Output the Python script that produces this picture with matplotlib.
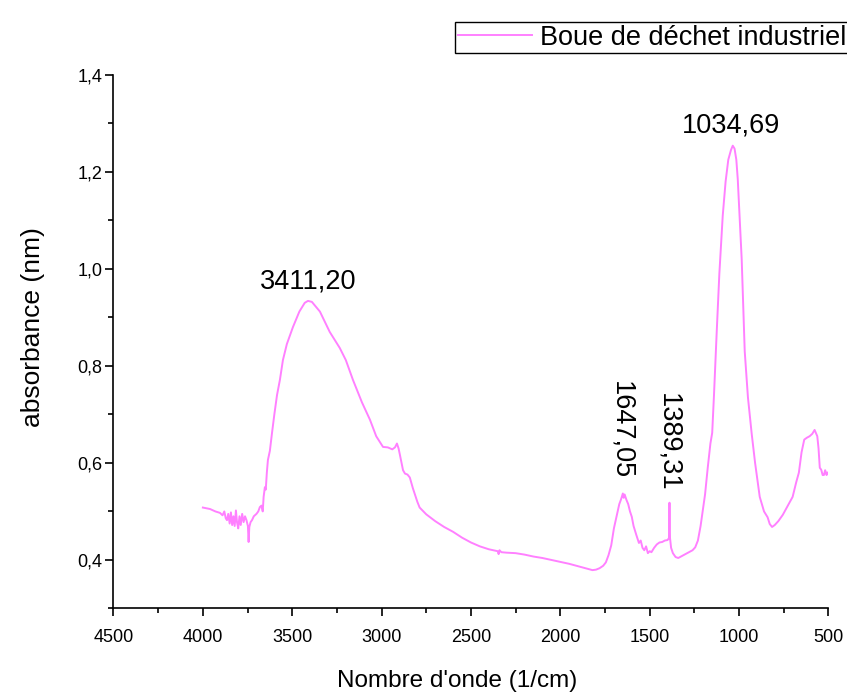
import matplotlib

matplotlib.use('Agg')
import matplotlib.pyplot as plt
from matplotlib.ticker import MultipleLocator, FuncFormatter

plt.rcParams['font.family'] = ['Liberation Sans', 'DejaVu Sans']

# spectrum (wavenumber, absorbance)
wn = [4000, 3960, 3930, 3904, 3890, 3880, 3872, 3865, 3858, 3850, 3843, 3836,
      3829, 3822, 3815, 3809, 3802, 3795, 3788, 3780, 3772, 3764, 3756, 3748,
      3744, 3740, 3733, 3725, 3715, 3700, 3690, 3681, 3672, 3665, 3660, 3653,
      3648, 3642, 3636, 3625, 3613, 3600, 3585, 3569, 3552, 3530, 3496, 3460,
      3430, 3412, 3390, 3345, 3290, 3234, 3200, 3160, 3110, 3065, 3030, 2992,
      2965, 2940, 2925, 2914, 2905, 2897, 2880, 2869, 2855, 2842, 2825, 2800,
      2787, 2750, 2700, 2650, 2600, 2550, 2500, 2450, 2400, 2350, 2345, 2340,
      2330, 2300, 2250, 2200, 2150, 2100, 2050, 2000, 1950, 1900, 1850, 1820,
      1800, 1780, 1760, 1745, 1730, 1715, 1700, 1685, 1670, 1660, 1650, 1645,
      1640, 1630, 1620, 1610, 1600, 1590, 1575, 1560, 1550, 1540, 1530, 1520,
      1510, 1500, 1490, 1475, 1460, 1445, 1430, 1415, 1400, 1392, 1389, 1386,
      1380, 1370, 1355, 1340, 1320, 1300, 1280, 1260, 1245, 1230, 1215, 1200,
      1190, 1175, 1160, 1150, 1140, 1125, 1110, 1091, 1075, 1060, 1045, 1035,
      1025, 1015, 1007, 995, 985, 975, 968, 950, 929, 910, 884, 860,
      840, 828, 815, 800, 780, 755, 730, 700, 680, 665, 650, 635,
      620, 605, 590, 577, 570, 562, 555, 548, 540, 532, 525, 518,
      510, 505]
absorb = [0.508, 0.505, 0.500, 0.497, 0.492, 0.500, 0.486, 0.482, 0.495, 0.475, 0.498, 0.472,
          0.490, 0.470, 0.502, 0.478, 0.465, 0.490, 0.472, 0.495, 0.478, 0.490, 0.482, 0.470,
          0.437, 0.468, 0.478, 0.482, 0.490, 0.495, 0.500, 0.509, 0.512, 0.500, 0.530, 0.550,
          0.545, 0.580, 0.606, 0.625, 0.662, 0.700, 0.740, 0.771, 0.812, 0.845, 0.880, 0.912,
          0.930, 0.934, 0.932, 0.912, 0.870, 0.837, 0.812, 0.771, 0.725, 0.689, 0.655, 0.633,
          0.632, 0.628, 0.632, 0.640, 0.630, 0.616, 0.585, 0.578, 0.576, 0.570, 0.548, 0.520,
          0.508, 0.494, 0.480, 0.468, 0.458, 0.446, 0.436, 0.428, 0.422, 0.418, 0.412, 0.420,
          0.416, 0.415, 0.414, 0.411, 0.407, 0.404, 0.400, 0.396, 0.392, 0.387, 0.382, 0.379,
          0.380, 0.383, 0.388, 0.395, 0.410, 0.430, 0.465, 0.490, 0.515, 0.525, 0.537, 0.528,
          0.535, 0.524, 0.515, 0.500, 0.489, 0.470, 0.452, 0.435, 0.440, 0.425, 0.420, 0.428,
          0.414, 0.418, 0.416, 0.425, 0.432, 0.436, 0.437, 0.440, 0.441, 0.445, 0.518, 0.445,
          0.425, 0.414, 0.406, 0.404, 0.408, 0.412, 0.416, 0.420, 0.426, 0.440, 0.470, 0.510,
          0.535, 0.590, 0.640, 0.662, 0.740, 0.868, 0.990, 1.110, 1.180, 1.225, 1.245, 1.254,
          1.248, 1.225, 1.185, 1.095, 1.020, 0.910, 0.830, 0.735, 0.660, 0.600, 0.530, 0.500,
          0.488, 0.474, 0.468, 0.472, 0.480, 0.493, 0.510, 0.530, 0.560, 0.580, 0.622, 0.648,
          0.652, 0.655, 0.660, 0.668, 0.662, 0.655, 0.630, 0.590, 0.586, 0.575, 0.575, 0.585,
          0.575, 0.580]

peak_labels = ['3411,20', '1647,05', '1389,31', '1034,69']
peak_x = [3411, 1656, 1398, 1046]
peak_y = [0.975, 0.668, 0.643, 1.295]
peak_rot = [0, -90, -90, 0]

fig = plt.figure(figsize=(8.47, 6.93), dpi=100)
ax = fig.add_axes([0.134, 0.122, 0.844, 0.770])

ax.plot(wn, absorb, color='#ff80ff', lw=1.4, label='Boue de déchet industriel')

for t, x, y, r in zip(peak_labels, peak_x, peak_y, peak_rot):
    ax.text(x, y, t, fontsize=19.5, ha='center', va='center', rotation=r)

ax.set_xlim(4500, 500)
ax.set_ylim(0.3, 1.4)
ax.xaxis.set_major_locator(MultipleLocator(500))
ax.xaxis.set_minor_locator(MultipleLocator(250))
ax.yaxis.set_minor_locator(MultipleLocator(0.1))
ax.set_yticks([0.4, 0.6, 0.8, 1.0, 1.2, 1.4])
ax.yaxis.set_major_formatter(FuncFormatter(lambda v, p: f'{v:.1f}'.replace('.', ',')))
ax.tick_params(which='major', direction='out', length=6, width=1.2, labelsize=13)
ax.tick_params(which='minor', direction='out', length=3.5, width=1.2)
ax.tick_params(axis='x', which='major', pad=9)
ax.tick_params(axis='y', which='major', pad=2)

for s in ['top', 'right']:
    ax.spines[s].set_visible(False)
for s in ['left', 'bottom']:
    ax.spines[s].set_linewidth(1.2)

ax.set_xlabel("Nombre d'onde (1/cm)", fontsize=17.5)
ax.set_ylabel('absorbance (nm)', fontsize=19)
ax.xaxis.set_label_coords(0.481, -0.1155)
ax.yaxis.set_label_coords(-0.096, 0.528)

leg = fig.legend(loc='upper left', bbox_to_anchor=(455 / 847, 1 - 22 / 693), fontsize=19.5,
                 frameon=True, fancybox=False, edgecolor='black', framealpha=1,
                 borderpad=0.1, handlelength=2.75, handletextpad=0.3, borderaxespad=0)
leg.get_frame().set_linewidth(1.0)

plt.savefig('out.png')
